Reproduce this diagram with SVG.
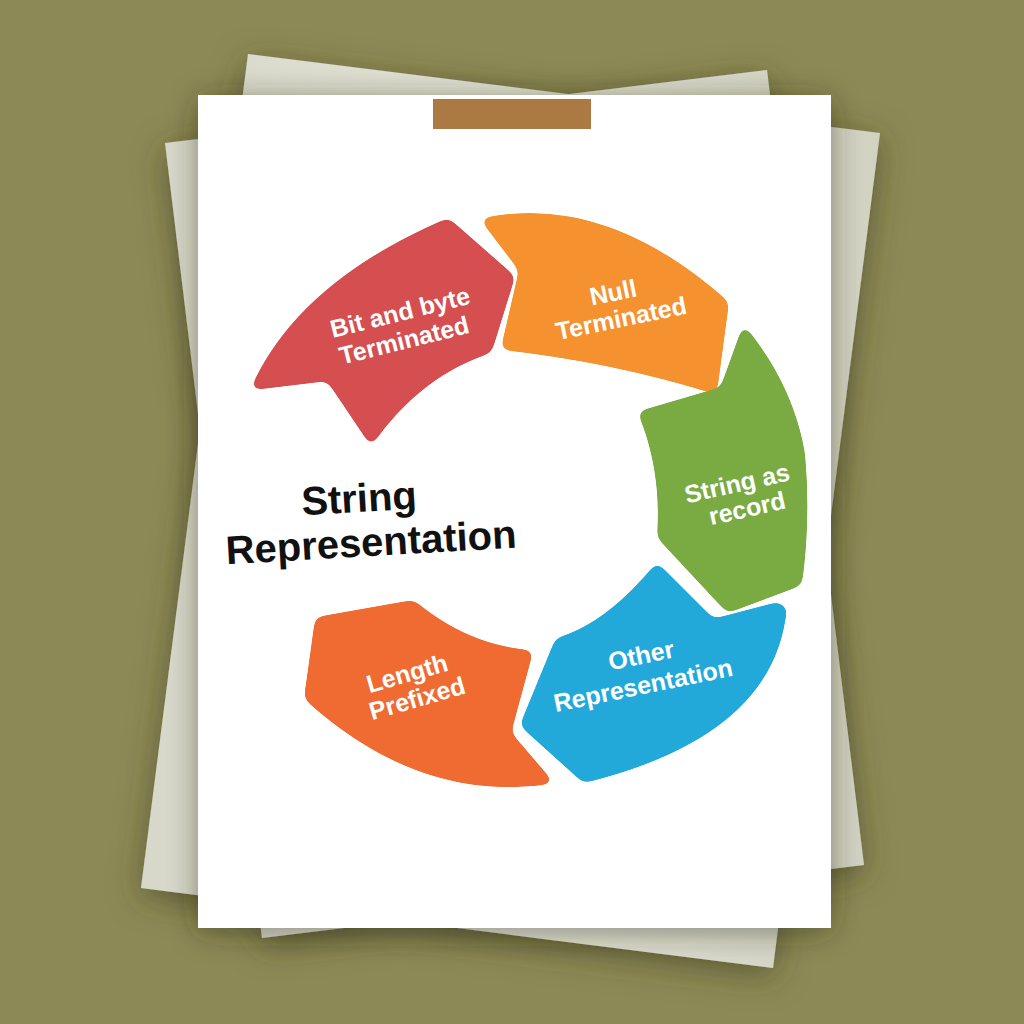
<svg xmlns="http://www.w3.org/2000/svg" width="1024" height="1024" viewBox="0 0 1024 1024">
  <defs>
    <filter id="bgShadow" x="-20%" y="-20%" width="140%" height="140%">
      <feGaussianBlur in="SourceAlpha" stdDeviation="16"/>
      <feOffset dx="0" dy="8" result="b"/>
      <feFlood flood-color="#3c3a1e" flood-opacity="0.6"/>
      <feComposite in2="b" operator="in"/>
      <feMerge><feMergeNode/><feMergeNode in="SourceGraphic"/></feMerge>
    </filter>
    <filter id="paperShadow" x="-20%" y="-20%" width="140%" height="140%">
      <feGaussianBlur in="SourceAlpha" stdDeviation="15"/>
      <feOffset dx="0" dy="4" result="b"/>
      <feFlood flood-color="#2a2a18" flood-opacity="0.5"/>
      <feComposite in2="b" operator="in"/>
      <feMerge><feMergeNode/><feMergeNode in="SourceGraphic"/></feMerge>
    </filter>
    <filter id="soft" x="-10%" y="-10%" width="120%" height="120%" color-interpolation-filters="sRGB">
      <feGaussianBlur in="SourceGraphic" stdDeviation="5"/>
      <feComponentTransfer>
        <feFuncA type="linear" slope="16" intercept="-7.5"/>
      </feComponentTransfer>
    </filter>
    <linearGradient id="sheetGrad" x1="0" y1="0" x2="1" y2="0">
      <stop offset="0" stop-color="#d8d8ca"/>
      <stop offset="0.5" stop-color="#e2e2d6"/>
      <stop offset="1" stop-color="#d2d2c2"/>
    </linearGradient>
    <style>
      .seg { stroke-width: 4; stroke-linejoin: round; filter: url(#soft); }
      .lbl { font-family: "Liberation Sans", Arial, sans-serif; font-weight: bold; font-size: 25px; fill: #ffffff; text-anchor: middle; }
      .title { font-family: "Liberation Sans", Arial, sans-serif; font-weight: bold; font-size: 40px; fill: #111111; text-anchor: middle; }
    </style>
  </defs>

  <rect x="0" y="0" width="1024" height="1024" fill="#8d8956"/>

  <g id="paper-stack">
    <g filter="url(#bgShadow)">
      <polygon points="248,54 880,133 773,968 141,888" fill="url(#sheetGrad)"/>
      <polygon points="165,143 767,70 864,865 262,938" fill="url(#sheetGrad)"/>
    </g>
    <rect id="main-sheet" x="198" y="95" width="633" height="833" fill="#ffffff" filter="url(#paperShadow)"/>
    <rect id="tape" x="433" y="99" width="158" height="30" fill="#ab7a43"/>
  </g>

  <g id="cycle">
    <g id="node-bit-byte">
      <path class="seg" fill="#d54e50" stroke="#d54e50" d="M253,388 Q300,283 448,220 L513,277 L490,351 Q419,374 371,443 L328,379 Z"/>
      <text class="lbl" transform="translate(400,312) rotate(-14)" y="9">Bit and byte</text>
      <text class="lbl" transform="translate(404,340) rotate(-14)" y="9">Terminated</text>
    </g>
    <g id="node-null">
      <path class="seg" fill="#f5922f" stroke="#f5922f" d="M483,220 Q605,194 727,303 L715,392 Q612,360 503,348 L521,270 Z"/>
      <text class="lbl" transform="translate(613,292) rotate(-11.6)" y="9">Null</text>
      <text class="lbl" transform="translate(621,318) rotate(-11.6)" y="9">Terminated</text>
    </g>
    <g id="node-record">
      <path class="seg" fill="#7aab42" stroke="#7aab42" d="M744,328 Q791,385 803,453 Q809,520 800,584 L728,611 L659,537 Q664,470 640,413 L722,389 Z"/>
      <text class="lbl" transform="translate(737,483) rotate(-12.7)" y="9">String as</text>
      <text class="lbl" transform="translate(747,508) rotate(-12.7)" y="9">record</text>
    </g>
    <g id="node-other">
      <path class="seg" fill="#22a9da" stroke="#22a9da" d="M657,565 L713,621 L778,604 Q788,608 784,616 Q768,736 584,781 L522,725 L557,640 Q607,626 657,565 Z"/>
      <text class="lbl" transform="translate(641,655) rotate(-11.6)" y="9">Other</text>
      <text class="lbl" transform="translate(643,685) rotate(-11.6)" y="9">Representation</text>
    </g>
    <g id="node-length">
      <path class="seg" fill="#ef6b32" stroke="#ef6b32" d="M317,619 L413,602 Q468,648 531,652 L509,733 L551,782 Q420,802 306,698 Z"/>
      <text class="lbl" transform="translate(407,673) rotate(-16)" y="9">Length</text>
      <text class="lbl" transform="translate(417,698) rotate(-16)" y="9">Prefixed</text>
    </g>
    <g id="node-center">
      <text class="title" transform="translate(359,498) rotate(-3.3)" y="14">String</text>
      <text class="title" transform="translate(371,542) rotate(-3.3)" y="14">Representation</text>
    </g>
  </g>
  <g id="connectors"/>
</svg>
